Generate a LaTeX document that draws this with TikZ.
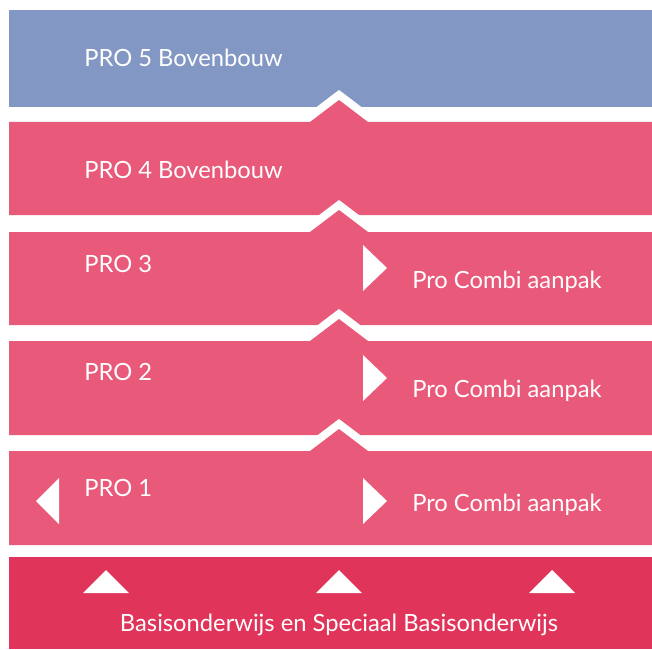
\documentclass[tikz,border=0pt]{standalone}
\usepackage{fontspec}
\setmainfont{Lato}
\usepackage{tikz}
\usepackage{xcolor}
\definecolor{pro-blue}{RGB}{130,151,196}
\definecolor{pro-pink}{RGB}{232,89,122}
\definecolor{pro-red}{RGB}{224,52,90}
\tikzset{
    band/.style = {fill=pro-pink, preaction={draw=white, line width=12pt, miter limit=10}},
    band-label/.style = {text=white, font=\fontsize{17.8}{20}\selectfont, inner sep=0pt, anchor=base west},
    pointer/.style = {fill=white},
}

\begin{document}
\begin{tikzpicture}[x=0.75pt, y=-0.75pt]
\useasboundingbox (0,0) rectangle (652,649);
% top band
\fill[pro-blue] (9,10) rectangle (652,107);
\node[band-label] (pro5) at (84,67) {PRO 5 Bovenbouw};
% pink bands with a peak
\foreach \ya/\yb in {122/215, 232/325, 341/435, 451/545}
    \path[band] (9,\yb) -- (9,\ya) -- (310,\ya) -- (339,\ya-22) -- (368,\ya) -- (652,\ya) -- (652,\yb) -- cycle;
\node[band-label] (pro4) at (84,178) {PRO 4 Bovenbouw};
\node[band-label] (pro3) at (84,272) {PRO 3};
\node[band-label] (pro2) at (84,380) {PRO 2};
\node[band-label] (pro1) at (84,496) {PRO 1};
\node[band-label] (combi3) at (412,288) {Pro Combi aanpak};
\node[band-label] (combi2) at (412,397) {Pro Combi aanpak};
\node[band-label] (combi1) at (412,511) {Pro Combi aanpak};
% arrows
\fill[pointer] (363,245) -- (387,268) -- (363,291) -- cycle;
\fill[pointer] (363,355) -- (387,378) -- (363,401) -- cycle;
\fill[pointer] (363,478) -- (387,501) -- (363,524) -- cycle;
\fill[pointer] (59,478) -- (36,501) -- (59,524) -- cycle;
% bottom band
\fill[pro-red] (9,557) rectangle (652,649);
\foreach \xa in {106, 339, 552}
    \fill[pointer] (\xa-23,593) -- (\xa,570) -- (\xa+23,593) -- cycle;
\node[band-label, anchor=base] (basis) at (339,631) {Basisonderwijs en Speciaal Basisonderwijs};
\end{tikzpicture}
\end{document}
